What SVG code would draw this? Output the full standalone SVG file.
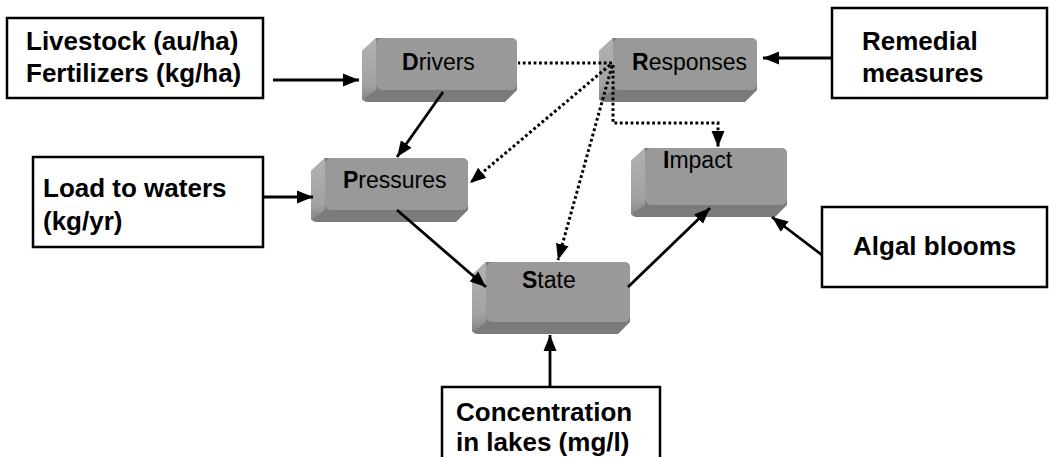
<svg xmlns="http://www.w3.org/2000/svg" width="1050" height="457" viewBox="0 0 1050 457">
<style>
.base{fill:#7b7b7b}
.left{fill:url(#lg)}
.top{fill:#999999}
.lbl{font-family:"Liberation Sans",Arial,sans-serif;font-size:23px;fill:#000}
.lbl tspan.b{font-weight:bold}
.box{fill:#fff;stroke:#000;stroke-width:2.5}
.bt{font-family:"Liberation Sans",Arial,sans-serif;font-size:26px;font-weight:bold;fill:#000}
.solid{fill:none;stroke:#000;stroke-width:2.8;marker-end:url(#ah)}
.dot{fill:none;stroke:#000;stroke-width:3;stroke-dasharray:2.8 2.6}
.dota{marker-end:url(#ah)}
</style>
<defs>
<linearGradient id="lg" x1="0" y1="0" x2="0" y2="1">
<stop offset="0" stop-color="#b2b2b2"/>
<stop offset="0.75" stop-color="#a2a2a2"/>
<stop offset="1" stop-color="#858585"/>
</linearGradient>
<marker id="ah" markerUnits="userSpaceOnUse" markerWidth="17" markerHeight="15" viewBox="0 0 17 15" refX="16" refY="7.5" orient="auto">
<path d="M0,1 L16,7.5 L0,14 Z" fill="#000"/>
</marker>
</defs>

<g id="drivers" transform="translate(376,38)">
<path class="base" d="M0,0 L135,0 Q141,0 141,6 L141,52 L129,64 L-8,64 Q-14,64 -14,58 L-14,13 Z"/>
<path class="left" d="M0,0 L0,52 L-14,62 L-14,13 Z"/>
<rect class="top" x="0" y="0" width="141" height="52" rx="6"/>
<text class="lbl" x="26" y="32"><tspan class="b">D</tspan>rivers</text>
</g>

<g id="responses" transform="translate(613,38)">
<path class="base" d="M0,0 L138,0 Q144,0 144,6 L144,52 L132,64 L-8,64 Q-14,64 -14,58 L-14,13 Z"/>
<path class="left" d="M0,0 L0,52 L-14,62 L-14,13 Z"/>
<rect class="top" x="0" y="0" width="144" height="52" rx="6"/>
<text class="lbl" x="19" y="32"><tspan class="b">R</tspan>esponses</text>
</g>

<g id="pressures" transform="translate(325,158)">
<path class="base" d="M0,0 L137,0 Q143,0 143,6 L143,52 L131,64 L-8,64 Q-14,64 -14,58 L-14,13 Z"/>
<path class="left" d="M0,0 L0,52 L-14,62 L-14,13 Z"/>
<rect class="top" x="0" y="0" width="143" height="52" rx="6"/>
<text class="lbl" x="18" y="30"><tspan class="b">P</tspan>ressures</text>
</g>

<g id="state" transform="translate(486,262)">
<path class="base" d="M0,0 L138,0 Q144,0 144,6 L144,60 L132,72 L-8,72 Q-14,72 -14,66 L-14,13 Z"/>
<path class="left" d="M0,0 L0,60 L-14,70 L-14,13 Z"/>
<rect class="top" x="0" y="0" width="144" height="60" rx="6"/>
<text class="lbl" x="36" y="26"><tspan class="b">S</tspan>tate</text>
</g>

<g id="impact" transform="translate(645,148)">
<path class="base" d="M0,0 L136,0 Q142,0 142,6 L142,57 L130,69 L-8,69 Q-14,69 -14,63 L-14,13 Z"/>
<path class="left" d="M0,0 L0,57 L-14,67 L-14,13 Z"/>
<rect class="top" x="0" y="0" width="142" height="57" rx="6"/>
<text class="lbl" x="18" y="20"><tspan class="b">I</tspan>mpact</text>
</g>

<g id="livestock">
<rect class="box" x="7" y="18" width="256" height="80"/>
<text class="bt" x="26" y="50">Livestock (au/ha)</text>
<text class="bt" x="26" y="82">Fertilizers (kg/ha)</text>
</g>

<g id="remedial">
<rect class="box" x="832" y="8" width="215" height="90"/>
<text class="bt" x="862" y="50">Remedial</text>
<text class="bt" x="862" y="82">measures</text>
</g>

<g id="load">
<rect class="box" x="33" y="157" width="230" height="90"/>
<text class="bt" x="43" y="197">Load to waters</text>
<text class="bt" x="43" y="230">(kg/yr)</text>
</g>

<g id="algal">
<rect class="box" x="822" y="207" width="225" height="80"/>
<text class="bt" x="853" y="255">Algal blooms</text>
</g>

<g id="concentration">
<rect class="box" x="442" y="387" width="218" height="80"/>
<text class="bt" x="456" y="421">Concentration</text>
<text class="bt" x="456" y="451">in lakes (mg/l)</text>
</g>

<g id="connectors">
<line class="solid" x1="273" y1="80" x2="359" y2="80"/>
<line class="solid" x1="832" y1="58" x2="763" y2="58"/>
<line class="solid" x1="263" y1="197" x2="313" y2="197"/>
<line class="solid" x1="443" y1="92" x2="397" y2="157"/>
<line class="solid" x1="397" y1="210" x2="486" y2="287"/>
<line class="solid" x1="550" y1="387" x2="550" y2="335"/>
<line class="solid" x1="628" y1="287" x2="710" y2="208"/>
<line class="solid" x1="822" y1="255" x2="772" y2="217"/>
<line class="dot" x1="612" y1="63" x2="518" y2="63"/>
<line class="dot dota" x1="610" y1="65" x2="470" y2="183"/>
<line class="dot dota" x1="612" y1="66" x2="558" y2="260"/>
<polyline class="dot dota" points="613,65 613,123 718,123 718,147"/>
</g>
</svg>
